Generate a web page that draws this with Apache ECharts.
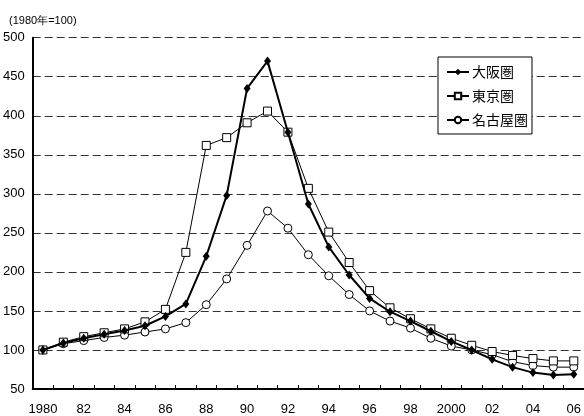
<!DOCTYPE html>
<html>
<head>
<meta charset="utf-8">
<script src="https://cdn.jsdelivr.net/npm/echarts@6/dist/echarts.min.js"></script>
<style>
html,body{margin:0;padding:0;background:#fff;}
#chart{width:584px;height:416px;}
</style>
</head>
<body>
<div id="chart"></div>
<script>
const years = [1980,1981,1982,1983,1984,1985,1986,1987,1988,1989,1990,1991,1992,1993,1994,1995,1996,1997,1998,1999,2000,2001,2002,2003,2004,2005,2006];
const osaka  = [100,109,115,120,125,131,143,159,220,298,435,470,379,287,232,196,166,149,137,124,111,100,88,78,71,68,69];
const tokyo  = [100,110,117,122,127,136,152,225,362,372,391,406,379,307,251,212,176,154,140,127,115,106,98,93,89,86,86];
const nagoya = [100,108,112,116,119,123,127,135,158,191,234,278,256,222,195,171,150,137,128,115,105,100,94,85,80,78,78];
const seriesNames = ['大阪圏','東京圏','名古屋圏'];
const unitLabel = '(1980年=100)';
const yTicks = {min:50, max:500, step:50};

const numFont = '"Liberation Sans Narrow","Arial Narrow","Liberation Sans",Arial,sans-serif';
const cjkFont = '"Noto Sans CJK JP","Noto Sans",sans-serif';

const chart = echarts.init(document.getElementById('chart'), null, {renderer:'canvas'});
chart.setOption({
  animation:false,
  backgroundColor:'#fff',
  title:{
    text:unitLabel, left:4, top:10,
    textStyle:{fontSize:11, fontWeight:'normal', color:'#000', fontFamily:numFont}
  },
  legend:{
    orient:'vertical', left:438, top:57,
    padding:[6,4,5,8],
    itemGap:6, itemWidth:22, itemHeight:8,
    borderColor:'#000', borderWidth:1, backgroundColor:'#fff',
    textStyle:{fontSize:14, lineHeight:18, color:'#000', fontFamily:cjkFont, padding:[0,0,0,-2]},
    data:seriesNames
  },
  grid:{left:31.4, top:37.7, width:554.6, height:351.7},
  xAxis:{
    type:'category',
    data:years.map(String),
    boundaryGap:true,
    axisLine:{lineStyle:{color:'#000', width:2}},
    axisTick:{show:true, inside:true, length:4, interval:0, lineStyle:{color:'#000', width:1}},
    axisLabel:{
      interval:1, margin:14, color:'#000', fontSize:13, fontFamily:numFont,
      formatter:function(v){ const y = Number(v); return (y===1980||y===2000) ? String(y) : String(y).slice(2); }
    },
    splitLine:{show:false}
  },
  yAxis:{
    type:'value', min:yTicks.min, max:yTicks.max, interval:yTicks.step,
    axisLine:{show:true, lineStyle:{color:'#000', width:2}},
    axisTick:{show:false},
    axisLabel:{color:'#000', fontSize:13, fontFamily:numFont, margin:8},
    splitLine:{show:true, lineStyle:{color:'#333', width:1, type:[8,4]}}
  },
  series:[
    {
      name:seriesNames[0], type:'line', data:osaka, z:4,
      symbol:'diamond', symbolSize:[7,9], showAllSymbol:true,
      lineStyle:{color:'#000', width:2},
      itemStyle:{color:'#000', borderColor:'#000', borderWidth:0}
    },
    {
      name:seriesNames[1], type:'line', data:tokyo, z:3,
      symbol:'rect', symbolSize:8, showAllSymbol:true,
      lineStyle:{color:'#000', width:1},
      itemStyle:{color:'#fff', borderColor:'#000', borderWidth:1}
    },
    {
      name:seriesNames[2], type:'line', data:nagoya, z:2,
      symbol:'circle', symbolSize:8, showAllSymbol:true,
      lineStyle:{color:'#000', width:1},
      itemStyle:{color:'#fff', borderColor:'#000', borderWidth:1}
    }
  ]
});
</script>
</body>
</html>
